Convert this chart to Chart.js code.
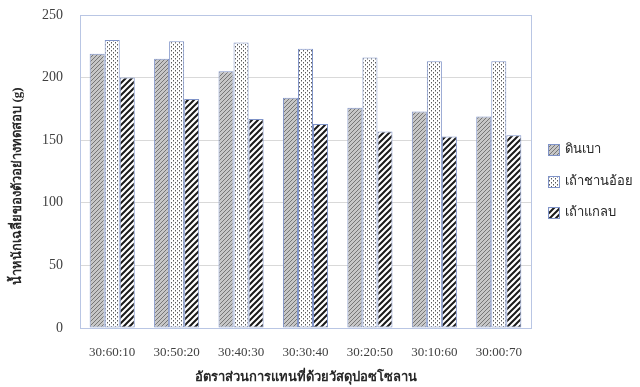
<!DOCTYPE html>
<html>
<head>
<meta charset="utf-8">
<script src="https://cdn.jsdelivr.net/npm/chart.js@4.4.1/dist/chart.umd.min.js"></script>
<style>
  html, body { margin: 0; padding: 0; background: #ffffff; }
  #wrap { width: 640px; height: 387px; position: relative; }
</style>
</head>
<body>
<div id="wrap"><canvas id="c" width="640" height="387"></canvas></div>
<script>
// Mixture ratios (cement : sand : pozzolan) and mean specimen weights in grams
const categories = ['30:60:10', '30:50:20', '30:40:30', '30:30:40', '30:20:50', '30:10:60', '30:00:70'];
const seriesNames = ['ดินเบา', 'เถ้าชานอ้อย', 'เถ้าแกลบ'];
const diatomite = [219, 215, 205, 184, 176, 173, 169];
const bagasseAsh = [230, 229, 228, 223, 216, 213, 213];
const riceHuskAsh = [200, 183, 167, 163, 157, 153, 154];
const yTicks = [0, 50, 100, 150, 200, 250];

const yTitle = 'น้ำหนักเฉลี่ยของตัวอย่างทดสอบ (g)';
const xTitle = 'อัตราส่วนการแทนที่ด้วยวัสดุปอซโซลาน';

const thaiFont = "'Liberation Serif', 'Noto Sans', 'DejaVu Sans', serif";
const numFont = "'Liberation Serif', 'Times New Roman', serif";

function makeTile(size, draw) {
  const t = document.createElement('canvas');
  t.width = size; t.height = size;
  const g = t.getContext('2d');
  draw(g, size);
  return document.getElementById('c').getContext('2d').createPattern(t, 'repeat');
}

// fine grey diagonal hatch
const greyHatch = makeTile(4, (g, s) => {
  g.fillStyle = '#c6c6c6';
  g.fillRect(0, 0, s, s);
  g.strokeStyle = '#767676';
  g.lineWidth = 1;
  g.beginPath();
  g.moveTo(-1, s + 1); g.lineTo(s + 1, -1);
  g.moveTo(-1, 1); g.lineTo(1, -1);
  g.moveTo(s - 1, s + 1); g.lineTo(s + 1, s - 1);
  g.stroke();
});

// small dots on white
const dotFill = makeTile(4, (g, s) => {
  g.fillStyle = '#ffffff';
  g.fillRect(0, 0, s, s);
  g.fillStyle = '#5a5a5a';
  g.fillRect(1, 0, 1, 1);
  g.fillRect(3, 2, 1, 1);
  g.fillStyle = '#b0b0b0';
  g.fillRect(1, 1, 1, 1);
  g.fillRect(3, 3, 1, 1);
});

// bold black diagonal stripes
const boldStripes = makeTile(6, (g, s) => {
  g.fillStyle = '#ffffff';
  g.fillRect(0, 0, s, s);
  g.strokeStyle = '#1a1a1a';
  g.lineWidth = 2;
  g.beginPath();
  g.moveTo(-2, s + 2); g.lineTo(s + 2, -2);
  g.moveTo(-2, 2); g.lineTo(2, -2);
  g.moveTo(s - 2, s + 2); g.lineTo(s + 2, s - 2);
  g.stroke();
});

const fills = [greyHatch, dotFill, boldStripes];
const values = [diatomite, bagasseAsh, riceHuskAsh];

// light blue frame around the plot area
const plotFrame = {
  id: 'plotFrame',
  beforeDatasetsDraw(chart) {
    const { ctx, chartArea: a } = chart;
    ctx.save();
    ctx.strokeStyle = '#b9c6e4';
    ctx.lineWidth = 1;
    ctx.strokeRect(Math.round(a.left) + 0.5, Math.round(a.top) + 0.5,
                   Math.round(a.right - a.left), Math.round(a.bottom - a.top));
    ctx.restore();
  }
};

// vertical axis title and legend to the right of the plot
const sideText = {
  id: 'sideText',
  afterDraw(chart) {
    const { ctx } = chart;
    ctx.save();
    ctx.translate(18, 186);
    ctx.rotate(-Math.PI / 2);
    ctx.fillStyle = '#262626';
    ctx.font = "bold 13px " + thaiFont;
    ctx.textAlign = 'center';
    ctx.textBaseline = 'middle';
    ctx.fillText(yTitle, 0, 0);
    ctx.restore();

    const x = 548, ys = [150, 182, 213];
    ctx.save();
    chart.data.datasets.forEach((ds, i) => {
      const y = ys[i];
      ctx.fillStyle = ds.backgroundColor;
      ctx.fillRect(x, y - 6, 12, 12);
      ctx.strokeStyle = '#7f93c8';
      ctx.lineWidth = 1;
      ctx.strokeRect(x + 0.5, y - 5.5, 11, 11);
      ctx.fillStyle = '#262626';
      ctx.font = "13px " + thaiFont;
      ctx.textBaseline = 'middle';
      ctx.textAlign = 'left';
      ctx.fillText(ds.label, x + 17, y);
    });
    ctx.restore();
  }
};

new Chart(document.getElementById('c'), {
  type: 'bar',
  data: {
    labels: categories,
    datasets: seriesNames.map((name, i) => ({
      label: name,
      data: values[i],
      backgroundColor: fills[i],
      borderColor: '#7f93c8',
      borderWidth: 1,
      borderSkipped: false,
      categoryPercentage: 0.7,
      barPercentage: 1.0
    }))
  },
  options: {
    responsive: false,
    animation: false,
    devicePixelRatio: 1,
    layout: { padding: { top: 15, right: 109, bottom: 0, left: 0 } },
    plugins: {
      legend: { display: false },
      tooltip: { enabled: false }
    },
    scales: {
      x: {
        grid: { display: false, drawTicks: false },
        border: { display: false },
        ticks: { color: '#404040', font: { family: numFont, size: 13 }, padding: 17, maxRotation: 0 },
        title: {
          display: true, text: xTitle, color: '#262626',
          font: { family: thaiFont, size: 13, weight: 'bold' },
          padding: { top: 4, bottom: 2 }
        },
        afterFit(scale) {
          scale.height = 59;
          scale.paddingLeft = 0;
          scale.paddingRight = 0;
        }
      },
      y: {
        min: 0, max: 250,
        afterBuildTicks(scale) { scale.ticks = yTicks.map(v => ({ value: v })); },
        grid: { color: '#d9d9d9', drawTicks: false },
        border: { display: true, color: '#a6a6a6' },
        ticks: { color: '#404040', font: { family: numFont, size: 14 }, padding: 17 },
        title: { display: false },
        afterFit(scale) {
          scale.width = 80;
          scale.paddingTop = 0;
          scale.paddingBottom = 0;
        }
      }
    }
  },
  plugins: [plotFrame, sideText]
});
</script>
</body>
</html>
